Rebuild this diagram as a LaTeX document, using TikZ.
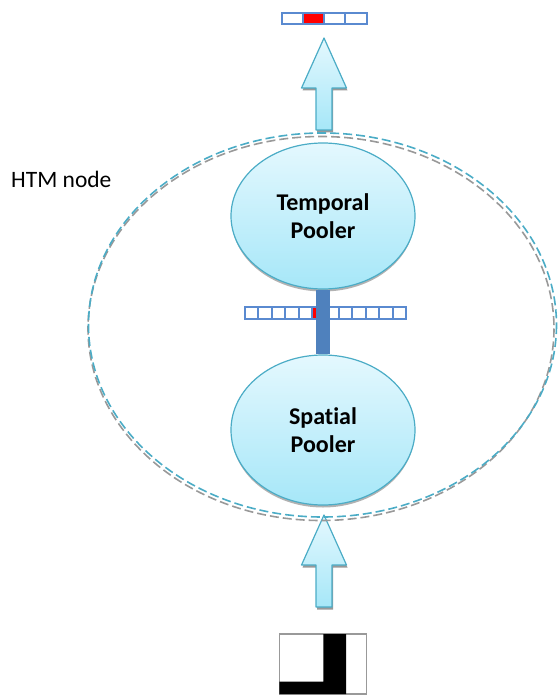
\documentclass[tikz,border=0pt]{standalone}
\usepackage{fontspec}
\setmainfont{Carlito}[RawFeature=-liga]
\usetikzlibrary{shapes.geometric}
\definecolor{edgeblue}{HTML}{4BACC6}
\definecolor{barblue}{HTML}{4F81BD}
\definecolor{cellblue}{HTML}{5A8AD0}
\definecolor{filltop}{HTML}{E4F8FE}
\definecolor{fillbot}{HTML}{A6E7F8}
\tikzset{
  pooler/.style={ellipse, draw=edgeblue, line width=1.2pt, top color=filltop, bottom color=fillbot,
    minimum width=184pt, minimum height=146pt, inner sep=0pt, align=center,
    font=\bfseries\fontsize{24}{28}\selectfont},
  cell/.style={rectangle, draw=cellblue, line width=2pt, fill=white, inner sep=0pt},
  hot/.style={fill=red},
  blockarrow/.pic={
    \fill[black!40, shift={(1,2.5)}] (0,0) -- (22.5,50) -- (8,50) -- (8,92) -- (-8,92) -- (-8,50) -- (-22.5,50) -- cycle;
    \draw[edgeblue, line width=1.2pt, top color=filltop, bottom color=fillbot, line join=round]
      (0,0) -- (22.5,50) -- (8,50) -- (8,92) -- (-8,92) -- (-8,50) -- (-22.5,50) -- cycle;
  },
  hoop/.style={dash pattern=on 9pt off 4pt, line width=1.6pt}
}
\begin{document}
\begin{tikzpicture}[x=1pt,y=-1pt]
\useasboundingbox (0,0) rectangle (559,695);

% arrows
\coordinate (atop) at (324,38);
\coordinate (abot) at (324,515);
\pic at (atop) {blockarrow};
\pic at (abot) {blockarrow};

% ellipse shadows
\fill[black!30] (323,218.5) ellipse [x radius=91.5, y radius=73];
\fill[black!30] (323,432.5) ellipse [x radius=91.5, y radius=75];

% poolers
\node[pooler] (tp) at (323,216) {Temporal\\Pooler};
\node[pooler, minimum height=150pt] (sp) at (323,430) {Spatial\\Pooler};

% middle SDR bar
\foreach \i in {0,...,11}{
  \node[cell, minimum width=13.42pt, minimum height=12.3pt] (m\i) at ({245+13.42*\i+6.71},312.9) {};
}
\node[cell, hot, minimum width=13.42pt, minimum height=12.3pt] (m5) at ({245+13.42*5+6.71},312.9) {};

% connector between poolers
\draw[barblue, line width=13.7pt] (tp.south) -- (sp.north);

% top SDR bar
\foreach \i in {0,...,3}{
  \node[cell, minimum width=21.25pt, minimum height=11.3pt] (t\i) at ({281.7+21.25*\i+10.625},18.3) {};
}
\node[cell, hot, minimum width=21.25pt, minimum height=11.3pt] (t1) at ({281.7+21.25+10.625},18.3) {};

% input image
\draw[black!40, line width=1.3pt] (279.3,634) rectangle (366.7,694);
\fill[black] (323.3,634) -- (346,634) -- (346,694) -- (279.3,694) -- (279.3,681.7) -- (323.3,681.7) -- cycle;

% HTM node boundary
\draw[hoop, black!40] (321,328.5) ellipse [x radius=233, y radius=192];
\draw[hoop, edgeblue] (322.5,325) ellipse [x radius=234, y radius=192];

\node[anchor=west, inner sep=0pt, font=\fontsize{23.5}{26}\selectfont] (lbl) at (11,179) {HTM node};
\end{tikzpicture}
\end{document}
